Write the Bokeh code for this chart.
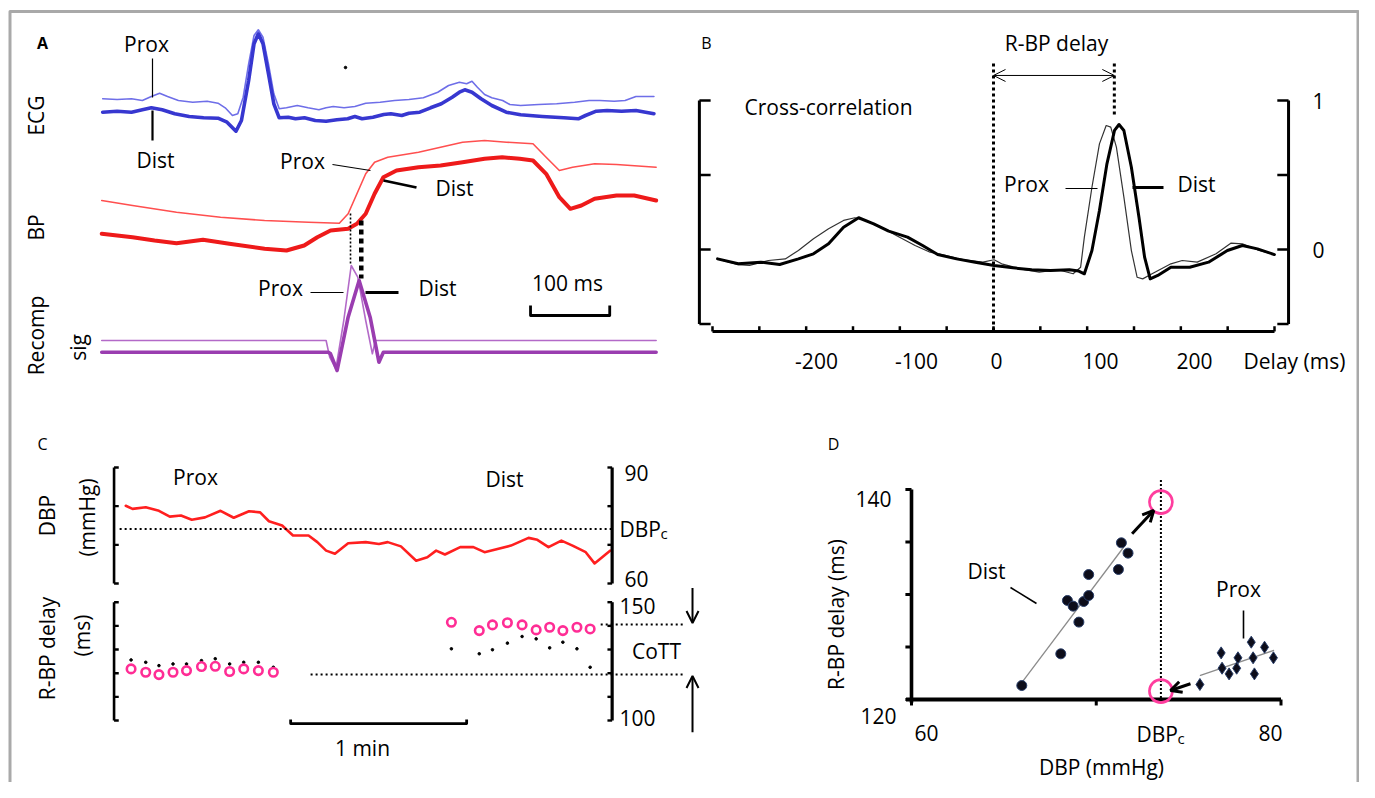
import math
from bokeh.plotting import figure
from bokeh.models import Range1d, Arrow, OpenHead
from bokeh.core.properties import value
from bokeh.embed import file_html
from bokeh.resources import INLINE

FONT = "Open Sans"
FS = 21

# ---------------- Panel A : ECG / BP / recomposed signal (time in ms, arbitrary amplitude) ----------------
ecg_dist_t = [1.5, 19.7, 37.9, 51.6, 62.9, 76.6, 92.5, 110.7, 128.9, 147.1, 158.5, 169.8, 176.7, 185.8, 192.6,
              198.0, 203.9, 210.8, 217.6, 224.4, 235.8, 244.9, 256.3, 269.9, 283.6, 297.2, 310.8, 319.9, 329.0,
              342.7, 356.3, 365.4, 379.1, 388.2, 401.8, 415.5, 429.1, 442.8, 451.9, 458.7, 467.8, 479.2, 492.8,
              511.0, 529.2, 556.5, 583.8, 602.0, 611.1, 624.7, 638.4, 656.6, 674.8, 697.5]
ecg_dist_v = [268.3, 269.3, 268.3, 270.7, 272.7, 270.7, 266.7, 264.0, 262.7, 262.3, 258.3, 249.3, 260.0, 300.0, 336.7,
              346.7, 336.7, 306.7, 276.7, 262.7, 263.3, 261.7, 262.7, 260.0, 259.3, 260.7, 261.7, 264.0, 261.7,
              263.3, 266.0, 266.7, 265.0, 267.3, 268.3, 272.7, 276.7, 283.3, 288.3, 290.7, 288.3, 281.7, 275.0,
              268.3, 265.7, 264.0, 262.7, 261.7, 265.0, 269.3, 270.0, 269.3, 270.0, 266.7]
ecg_prox_t = [1.5, 19.7, 37.9, 51.6, 62.9, 73.4, 83.4, 97.1, 115.2, 133.4, 147.1, 156.2, 165.3, 172.1, 178.9,
              185.8, 192.6, 198.0, 203.9, 210.8, 217.6, 224.4, 233.5, 247.2, 260.8, 274.5, 283.6, 292.6, 306.3,
              319.9, 333.6, 351.8, 370.0, 388.2, 406.4, 424.6, 438.2, 451.9, 461.0, 467.8, 474.6, 483.7, 492.8,
              506.5, 515.6, 529.2, 551.9, 574.7, 597.4, 615.6, 629.3, 647.4, 661.1, 674.8, 697.5]
ecg_prox_v = [281.7, 281.0, 281.7, 280.0, 284.0, 287.3, 284.0, 280.0, 278.3, 279.3, 277.3, 272.7, 265.0, 266.7, 283.3,
              316.7, 345.0, 350.7, 343.3, 316.7, 286.7, 271.7, 272.7, 275.0, 272.7, 270.7, 272.7, 274.0, 272.7,
              274.0, 277.3, 278.3, 280.0, 281.0, 282.7, 288.3, 295.0, 298.3, 296.7, 299.3, 293.3, 286.0, 282.7,
              280.0, 276.0, 275.0, 276.0, 276.7, 278.3, 280.0, 280.0, 279.3, 280.0, 284.0, 284.0]
bp_prox_t = [0.3, 39.2, 94.7, 150.3, 205.9, 261.4, 300.3, 311.4, 322.5, 333.6, 344.8, 361.4, 400.3, 428.1, 455.9,
             483.7, 511.4, 544.8, 561.4, 578.1, 594.8, 622.6, 650.3, 700.3]
bp_prox_v = [180.0, 175.0, 168.3, 163.3, 160.0, 158.3, 157.3, 166.7, 186.7, 206.7, 218.3, 223.3, 228.3, 233.3, 238.3,
             240.0, 238.3, 236.7, 223.3, 210.0, 213.3, 216.7, 216.0, 213.3]
bp_dist_t = [0.3, 39.2, 67.0, 94.7, 128.1, 161.4, 205.9, 233.6, 255.9, 272.5, 289.2, 311.4, 322.5, 333.6, 344.8,
             355.9, 372.5, 400.3, 428.1, 455.9, 483.7, 505.9, 528.1, 544.8, 561.4, 578.1, 592.0, 605.9, 622.6,
             650.3, 672.6, 700.3]
bp_dist_v = [146.7, 143.3, 140.0, 137.3, 140.7, 136.7, 131.7, 130.0, 135.0, 143.3, 150.0, 151.7, 156.7, 166.7, 186.7,
             203.3, 210.0, 213.3, 215.0, 218.3, 221.7, 223.3, 221.7, 220.0, 206.7, 183.3, 171.7, 175.0, 181.7,
             185.0, 185.0, 180.0]
rc_prox_t = [0.3, 283.6, 288.1, 295.9, 305.9, 315.3, 323.6, 333.6, 342.0, 345.9, 700.3]
rc_prox_v = [40.0, 40.0, 23.3, 11.7, 60.0, 115.0, 103.3, 60.0, 26.7, 40.0, 40.0]
rc_dist_t = [0.3, 286.4, 289.2, 297.5, 311.4, 325.3, 339.2, 350.3, 355.9, 700.3]
rc_dist_v = [28.3, 28.3, 26.7, 10.0, 63.3, 100.0, 63.3, 18.3, 28.3, 28.3]
a_onset_prox_t, a_onset_prox_v = [314.4, 314.4], [167.0, 115.0]
a_onset_dist_t, a_onset_dist_v = [328.0, 328.0], [160.0, 102.0]
a_scale_t, a_scale_v = [541.7, 541.7, 641.7, 641.7], [75.0, 65.0, 65.0, 75.0]

# ---------------- Panel B : cross-correlation vs delay (ms) ----------------
xc_dist_ms = [-294.6, -272.5, -248.4, -228.3, -208.3, -192.2, -176.1, -160.1, -144.0, -127.9, -111.9, -91.8, -75.7,
              -59.6, -39.5, -19.5, 0.6, 20.7, 40.8, 60.9, 81.0, 91.0, 97.0, 105.1, 113.1, 121.1, 129.2, 134.0,
              139.2, 147.2, 155.3, 161.3, 167.3, 175.4, 189.4, 209.5, 229.6, 249.7, 265.7, 281.8, 299.9]
xc_dist = [-0.063, -0.096, -0.085, -0.101, -0.063, -0.029, 0.038, 0.15, 0.213, 0.172, 0.123, 0.083, 0.027, -0.034,
           -0.063, -0.085, -0.107, -0.123, -0.136, -0.141, -0.136, -0.145, -0.163, -0.007, 0.262, 0.575, 0.799,
           0.839, 0.799, 0.552, 0.217, -0.051, -0.197, -0.174, -0.119, -0.119, -0.085, -0.007, 0.027, 0.004, -0.034]
xc_prox_ms = [-294.6, -272.5, -260.5, -240.4, -222.3, -208.3, -192.2, -176.1, -160.1, -148.0, -136.0, -119.9,
              -103.8, -83.7, -67.7, -51.6, -31.5, -11.4, 0.6, 8.7, 28.7, 48.8, 68.9, 85.0, 93.0, 97.0, 105.1, 113.1,
              120.3, 125.2, 131.2, 139.2, 147.2, 153.3, 159.3, 169.3, 189.4, 201.5, 217.5, 237.6, 253.7, 265.7,
              281.8, 299.9]
xc_prox = [-0.063, -0.101, -0.107, -0.074, -0.063, -0.007, 0.072, 0.139, 0.195, 0.213, 0.195, 0.15, 0.094, 0.027,
           -0.018, -0.04, -0.069, -0.085, -0.069, -0.096, -0.13, -0.152, -0.136, -0.163, -0.119, 0.083, 0.418,
           0.709, 0.832, 0.821, 0.687, 0.351, -0.007, -0.186, -0.197, -0.163, -0.096, -0.074, -0.085, -0.029,
           0.043, 0.038, -0.002, -0.034]
b_ticks = [-300, -250, -200, -150, -100, -50, 0, 50, 100, 150, 200, 250, 300]
b_tick_labels = ["-200", "-100", "0", "100", "200"]
b_yticks = [1.0, 0.5, 0.0, -0.5]
rbp_delay_peak = 129.0

# ---------------- Panel C : DBP and R-BP delay over time (s) ----------------
dbp_t = [0.1, 2.4, 6.9, 11.4, 15.1, 18.9, 22.6, 27.1, 32.4, 36.9, 42.1, 45.9, 48.9, 53.4, 57.1, 62.4, 65.4, 68.4,
         71.4, 75.9, 81.9, 86.4, 89.4, 93.9, 99.1, 102.9, 105.9, 108.9, 114.1, 118.6, 122.4, 131.4, 137.4, 140.4,
         144.2, 148.6, 152.4, 156.9, 159.9, 165.2]
dbp = [80.1, 79.3, 79.7, 78.8, 77.3, 77.6, 76.5, 77.1, 78.8, 77.0, 78.7, 78.4, 76.1, 75.0, 72.4, 72.4, 70.7, 68.5,
       67.7, 70.4, 70.7, 70.2, 70.7, 69.6, 65.9, 66.8, 68.5, 67.5, 69.4, 69.4, 68.1, 69.8, 71.8, 71.3, 69.4, 71.1,
       69.8, 68.1, 65.2, 68.5]
dbp_c_C = 74.1
prox_beat_t = [1.9, 6.9, 11.4, 16.2, 20.8, 25.9, 30.6, 35.5, 40.3, 45.3, 50.4]
prox_delay = [121.8, 120.4, 119.4, 120.4, 121.1, 122.8, 122.9, 120.7, 121.8, 121.1, 120.4]
prox_delay_raw = [125.6, 124.6, 123.2, 123.9, 123.9, 125.3, 126.1, 123.9, 124.6, 124.6, 122.5]
dist_beat_t = [111.1, 120.6, 125.1, 130.2, 135.2, 140.0, 144.6, 149.1, 153.9, 158.4]
dist_delay = [141.5, 138.0, 140.4, 141.3, 140.4, 138.3, 139.4, 138.0, 139.4, 138.7]
dist_delay_raw = [130.3, 128.2, 129.9, 132.7, 135.5, 134.5, 130.7, 133.1, 130.3, 122.5]
cott_hi, cott_lo = 140.6, 119.4
c_dbp_ticks = [60, 70, 80, 90]
c_delay_ticks = [100, 110, 120, 130, 140, 150]

# ---------------- Panel D : R-BP delay vs DBP ----------------
d_dist_dbp = [65.97, 68.08, 68.44, 68.75, 69.06, 69.32, 69.59, 69.59, 71.2, 71.36, 71.72]
d_dist_delay = [121.33, 124.35, 129.43, 128.89, 127.37, 129.33, 129.9, 131.9, 132.38, 134.92, 133.94]
d_prox_dbp = [75.61, 76.76, 76.81, 77.19, 77.67, 77.6, 78.39, 78.49, 78.56, 79.11, 79.59]
d_prox_delay = [121.43, 124.44, 122.98, 122.44, 123.97, 122.98, 125.46, 123.97, 122.44, 124.98, 123.97]
d_dist_fit_x, d_dist_fit_y = [65.97, 71.48], [121.6, 134.5]
d_prox_fit_x, d_prox_fit_y = [75.64, 79.6], [122.29, 124.67]
dbp_c_D = 73.5
d_extrap_delay = [138.8, 120.8]
d_xticks = [60, 70, 80]
d_yticks = [120, 125, 130, 135, 140]

# ---------------- figure & per-panel scales (pixel anchors in page coordinates) ----------------
PX0, PX1, PY0, PY1 = 0, 1359, 0, 782
W, H = PX1 - PX0, PY1 - PY0


def xr_from(d0, p0, d1, p1):
    k = (d1 - d0) / (p1 - p0)
    return Range1d(start=d0 + (PX0 - p0) * k, end=d0 + (PX1 - p0) * k)


def yr_from(d0, p0, d1, p1):
    k = (d1 - d0) / (p1 - p0)
    return Range1d(start=d0 + (PY1 - p0) * k, end=d0 + (PY0 - p0) * k)


p = figure(width=W, height=H, x_range=Range1d(PX0, PX1), y_range=Range1d(PY1, PY0),
           output_backend="svg", toolbar_location=None, min_border=0,
           x_axis_location=None, y_axis_location=None, outline_line_color=None)
p.grid.visible = False
p.background_fill_color = "white"
p.border_fill_color = "white"

p.extra_x_ranges = {
    "A": xr_from(0, 101, 100, 180.2),
    "B": xr_from(-300, 712, 300, 1274),
    "C": xr_from(0, 125, 60, 301),
    "D": xr_from(60, 911, 80, 1280.5),
}
p.extra_y_ranges = {
    "A": yr_from(0, 380, 100, 280),
    "B": yr_from(0, 249, 1, 100),
    "Cd": yr_from(60, 583, 90, 467),
    "Cr": yr_from(100, 720, 150, 601.7),
    "D": yr_from(120, 699, 140, 489),
}


def ln(xs, ys, color="black", width=1.0, xr="default", yr="default", dash="solid", cap="round"):
    p.line(xs, ys, line_color=color, line_width=width, line_dash=dash, line_join="round",
           line_cap=cap, x_range_name=xr, y_range_name=yr)


def seg(x0, y0, x1, y1, color="black", width=1.0, xr="default", yr="default"):
    p.segment(x0=x0, y0=y0, x1=x1, y1=y1, line_color=color, line_width=width, line_cap="butt",
              x_range_name=xr, y_range_name=yr)


def label(x, y, s, size=FS, align="center", angle=0.0, bold=False, xr="default", yr="default"):
    p.text(x=[x], y=[y], text=[s], text_font=value(FONT), text_font_size=value(f"{size}px"),
           text_align=align, text_baseline="middle", angle=angle,
           text_font_style=value("bold" if bold else "normal"), text_color="black",
           x_range_name=xr, y_range_name=yr)


def arrow(x0, y0, x1, y1, width=2.0, size=11, both=False, xr="default", yr="default"):
    p.add_layout(Arrow(x_start=x0, y_start=y0, x_end=x1, y_end=y1, line_width=width, line_color="black",
                       end=OpenHead(size=size, line_width=width, line_color="black"),
                       start=OpenHead(size=size, line_width=width, line_color="black") if both else None,
                       x_range_name=xr, y_range_name=yr))


# outer grey frame
ln([9.5, 9.5, 1357.5, 1357.5], [782, 11, 11, 782], color="#a9a9a9", width=3, cap="butt")

# ---------------- Panel A ----------------
ln(ecg_prox_t, ecg_prox_v, "#6e6ee8", 1.6, "A", "A")
ln(ecg_dist_t, ecg_dist_v, "#3737d0", 3.6, "A", "A")
ln(bp_prox_t, bp_prox_v, "#ff4f4f", 1.6, "A", "A")
ln(bp_dist_t, bp_dist_v, "#ee1a1a", 4.0, "A", "A")
ln(rc_prox_t, rc_prox_v, "#b36ac8", 1.6, "A", "A")
ln(rc_dist_t, rc_dist_v, "#9a3db0", 3.6, "A", "A")
ln(a_onset_prox_t, a_onset_prox_v, "black", 1.6, "A", "A", dash="2 2", cap="butt")
ln(a_onset_dist_t, a_onset_dist_v, "black", 4.5, "A", "A", dash="5 4", cap="butt")
ln(a_scale_t, a_scale_v, "black", 2.8, "A", "A", cap="butt")
p.scatter([345], [67], size=2.5, color="black")

label(42, 42, "A", size=16, bold=True)
label(146, 43, "Prox")
label(155, 159, "Dist")
seg([152], [58], [152], [97], width=1.2)
seg([152], [110], [152], [140], width=2.2)
label(302, 160, "Prox")
seg([332], [164], [370], [170], width=1.2)
label(454, 187, "Dist")
seg([383], [180], [416], [187], width=2.8)
label(280, 287, "Prox")
seg([310], [292], [343], [292], width=1.2)
label(437, 287, "Dist")
seg([365], [292], [398], [292], width=2.8)
label(567, 282, "100 ms")
label(35, 115, "ECG", angle=math.pi / 2)
label(35, 227, "BP", angle=math.pi / 2)
label(35, 335, "Recomp", angle=math.pi / 2)
label(77, 347, "sig", angle=math.pi / 2)

# ---------------- Panel B ----------------
ln(xc_prox_ms, xc_prox, "#333333", 1.2, "B", "B")
ln(xc_dist_ms, xc_dist, "black", 3.0, "B", "B")
B_AX = -0.55
ln([-300, 300], [B_AX, B_AX], "black", 3.0, "B", "B", cap="butt")
seg(b_ticks, [B_AX] * len(b_ticks), b_ticks, [B_AX + 0.035] * len(b_ticks), width=2.5, xr="B", yr="B")
for bx, tick_len in ((-314.0, 12.0), (315.0, -12.0)):
    ln([bx, bx], [-0.5, 1.0], "black", 3.0, "B", "B", cap="butt")
    seg([bx] * 4, b_yticks, [bx + tick_len] * 4, b_yticks, width=2.5, xr="B", yr="B")
ln([0, 0], [1.248, B_AX], "black", 3.0, "B", "B", dash="3 3", cap="butt")
ln([rbp_delay_peak, rbp_delay_peak], [1.248, 0.9], "black", 3.0, "B", "B", dash="3 3", cap="butt")
arrow(0, 1.168, rbp_delay_peak, 1.168, width=1.0, size=12, both=True, xr="B", yr="B")

label(706, 42, "B", size=16)
label(1056, 42, "R-BP delay")
label(828, 106, "Cross-correlation")
label(1026, 183, "Prox")
seg([1065], [188], [1097], [188], width=1.2)
label(1196, 183, "Dist")
seg([1132], [187], [1163], [187], width=2.8)
label(1318, 100, "1")
label(1318, 249, "0")
for s, bx in zip(b_tick_labels, [816, 916, 996, 1100, 1194]):
    label(bx, 360, s)
label(1294, 360, "Delay (ms)")

# ---------------- Panel C ----------------
ln(dbp_t, dbp, "#ff1f1f", 2.6, "C", "Cd")
ln([-2.0, 166.0], [dbp_c_C, dbp_c_C], "black", 2.0, "C", "Cd", dash="2 3", cap="butt")
for bx, tl, lw in ((-3.9, 1.6, 2.6), (165.9, -1.6, 3.2)):
    ln([bx, bx], [60, 90], "black", lw, "C", "Cd", cap="butt")
    seg([bx] * 4, c_dbp_ticks, [bx + tl] * 4, c_dbp_ticks, width=2.4, xr="C", yr="Cd")
    ln([bx, bx], [100, 150], "black", lw, "C", "Cr", cap="butt")
    seg([bx] * 6, c_delay_ticks, [bx + tl] * 6, c_delay_ticks, width=2.4, xr="C", yr="Cr")
p.scatter(prox_beat_t, prox_delay_raw, size=2.6, color="black", x_range_name="C", y_range_name="Cr")
p.scatter(dist_beat_t, dist_delay_raw, size=2.6, color="black", x_range_name="C", y_range_name="Cr")
p.scatter(prox_beat_t, prox_delay, size=8.5, fill_color="white", line_color="#ff2d95", line_width=2.6,
          x_range_name="C", y_range_name="Cr")
p.scatter(dist_beat_t, dist_delay, size=8.5, fill_color="white", line_color="#ff2d95", line_width=2.6,
          x_range_name="C", y_range_name="Cr")
ln([162.0, 190.2], [cott_hi, cott_hi], "black", 2.0, "C", "Cr", dash="2 3", cap="butt")
ln([63.1, 190.2], [cott_lo, cott_lo], "black", 2.0, "C", "Cr", dash="2 3", cap="butt")
arrow(193.3, 156.0, 193.3, cott_hi + 0.6, width=2.0, size=12, xr="C", yr="Cr")
arrow(193.3, 95.0, 193.3, cott_lo - 0.6, width=2.0, size=12, xr="C", yr="Cr")
ln([56.3, 56.3, 116.3, 116.3], [100.4, 98.7, 98.7, 100.4], "black", 2.8, "C", "Cr", cap="butt")

label(42, 443, "C", size=16)
label(195, 476, "Prox")
label(504, 478, "Dist")
label(624, 472, "90", align="left")
label(624, 578, "60", align="left")
label(619, 528, "DBP", align="left")
label(660, 532, "c", size=15, align="left")
label(619, 605, "150", align="left")
label(619, 717, "100", align="left")
label(656, 650, "CoTT")
label(362, 747, "1 min")
label(46, 515, "DBP", angle=math.pi / 2)
label(86, 517, "(mmHg)", angle=math.pi / 2)
label(46, 648, "R-BP delay", angle=math.pi / 2)
label(81, 635, "(ms)", angle=math.pi / 2)

# ---------------- Panel D ----------------
ln([60, 60], [119.7, 140], "black", 3.6, "D", "D", cap="butt")
seg([60] * 5, d_yticks, [59.67] * 5, d_yticks, width=3.0, xr="D", yr="D")
ln([59.7, 80], [120, 120], "black", 4.0, "D", "D", cap="butt")
seg(d_xticks, [120] * 3, d_xticks, [119.43] * 3, width=3.0, xr="D", yr="D")
ln([dbp_c_D, dbp_c_D], [140.9, 120], "black", 2.0, "D", "D", dash="2 2", cap="butt")
ln(d_dist_fit_x, d_dist_fit_y, "#8c8c8c", 1.3, "D", "D")
ln(d_prox_fit_x, d_prox_fit_y, "#8c8c8c", 1.3, "D", "D")
p.scatter(d_dist_dbp, d_dist_delay, size=10, fill_color="#0d0d1a", line_color="#2a3f6a", line_width=1,
          x_range_name="D", y_range_name="D")
p.scatter(d_prox_dbp, d_prox_delay, marker="diamond", size=12, fill_color="#0d0d1a", line_color="#2a3f6a",
          line_width=1, x_range_name="D", y_range_name="D")
arrow(71.94, 135.78, 73.11, 138.0, width=3.0, size=11, xr="D", yr="D")
arrow(75.1, 121.5, 74.02, 120.86, width=3.0, size=11, xr="D", yr="D")
p.scatter([dbp_c_D, dbp_c_D], d_extrap_delay, size=23, fill_color=None, line_color="#ff3d9e", line_width=2.6,
          x_range_name="D", y_range_name="D")

label(833, 443, "D", size=16)
label(873, 498, "140")
label(878, 715, "120")
label(926, 732, "60")
label(1270, 732, "80")
label(1136, 733, "DBP", align="left")
label(1177, 737, "c", size=15, align="left")
label(1101, 766, "DBP (mmHg)")
label(986, 570, "Dist")
seg([1010], [587], [1036], [603], width=1.6)
label(1238, 588, "Prox")
seg([1243], [610], [1243], [638], width=1.6)
label(835, 614, "R-BP delay (ms)", angle=math.pi / 2)

open("out.html", "w").write(file_html(p, INLINE))
